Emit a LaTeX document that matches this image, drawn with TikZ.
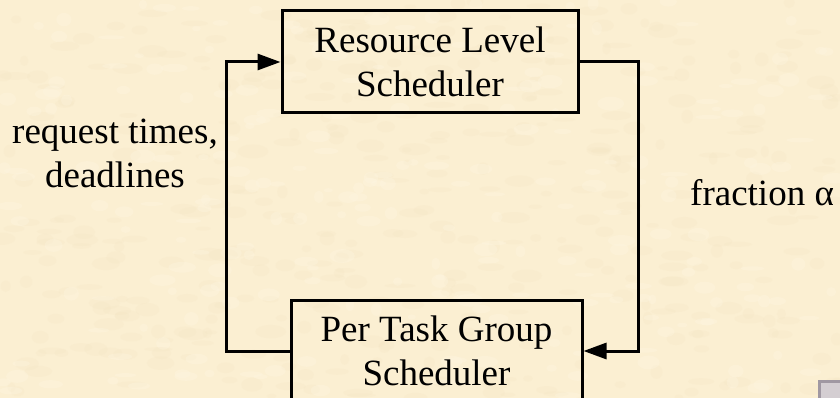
\documentclass[tikz,border=0pt]{standalone}
\usepackage{fontspec}
\setmainfont{Liberation Serif}
\usetikzlibrary{arrows.meta}

\definecolor{parchment}{RGB}{251,239,210}
\definecolor{parchdark}{RGB}{240,222,186}
\definecolor{parchlight}{RGB}{255,248,230}
\definecolor{btnedge}{RGB}{160,152,162}
\definecolor{btnfill}{RGB}{212,206,210}

\tikzset{
  every node/.style={font=\fontsize{37}{44}\selectfont, text=black},
  schedbox/.style={draw, line width=3pt, align=center, inner sep=0pt},
  link/.style={line width=3pt, line join=miter},
  feed/.style={link, -{Triangle[length=23pt,width=16pt]}},
  caption/.style={align=center, inner sep=0pt}
}

\begin{document}
\begin{tikzpicture}[x=1pt,y=-1pt]
  % page area and paper-coloured backdrop
  \useasboundingbox (0,0) rectangle (840,398);
  \clip (0,0) rectangle (840,398);
  \fill[parchment] (0,0) rectangle (840,398);

  % faint mottling of the paper
  \pgfmathsetseed{7}
  \foreach \k in {1,...,420}{
    \pgfmathsetmacro{\px}{840*rnd}
    \pgfmathsetmacro{\py}{398*rnd}
    \pgfmathsetmacro{\rx}{4+12*rnd}
    \pgfmathsetmacro{\ry}{2+5*rnd}
    \fill[parchdark, opacity=0.14] (\px,\py) ellipse [x radius=\rx, y radius=\ry];
  }
  \foreach \k in {1,...,260}{
    \pgfmathsetmacro{\px}{840*rnd}
    \pgfmathsetmacro{\py}{398*rnd}
    \pgfmathsetmacro{\rx}{4+10*rnd}
    \pgfmathsetmacro{\ry}{2+5*rnd}
    \fill[parchlight, opacity=0.25] (\px,\py) ellipse [x radius=\rx, y radius=\ry];
  }

  % the two schedulers
  \node[schedbox, minimum width=296pt, minimum height=102pt] (rls) at (430,62)
    {Resource Level\\Scheduler};
  \node[schedbox, minimum width=291pt, minimum height=102pt] (ptg) at (436.5,351)
    {Per Task Group\\Scheduler};

  % bends of the feedback loop
  \coordinate (lbend) at (226,62);
  \coordinate (rbend) at (638,351);

  % requests go up, shares come back down
  \draw[feed] (ptg.west) -| (lbend) -- (rls.west);
  \draw[feed] (rls.east) -| (rbend) -- (ptg.east);

  % labels of the two flows
  \node[caption] (req) at (115,153) {request times,\\deadlines};
  \node[caption, anchor=base west] (frac) at (690,205) {fraction α};

  % corner of the navigation button
  \draw[btnedge, fill=btnfill, line width=3pt] (819,381) rectangle (850,410);
\end{tikzpicture}
\end{document}
